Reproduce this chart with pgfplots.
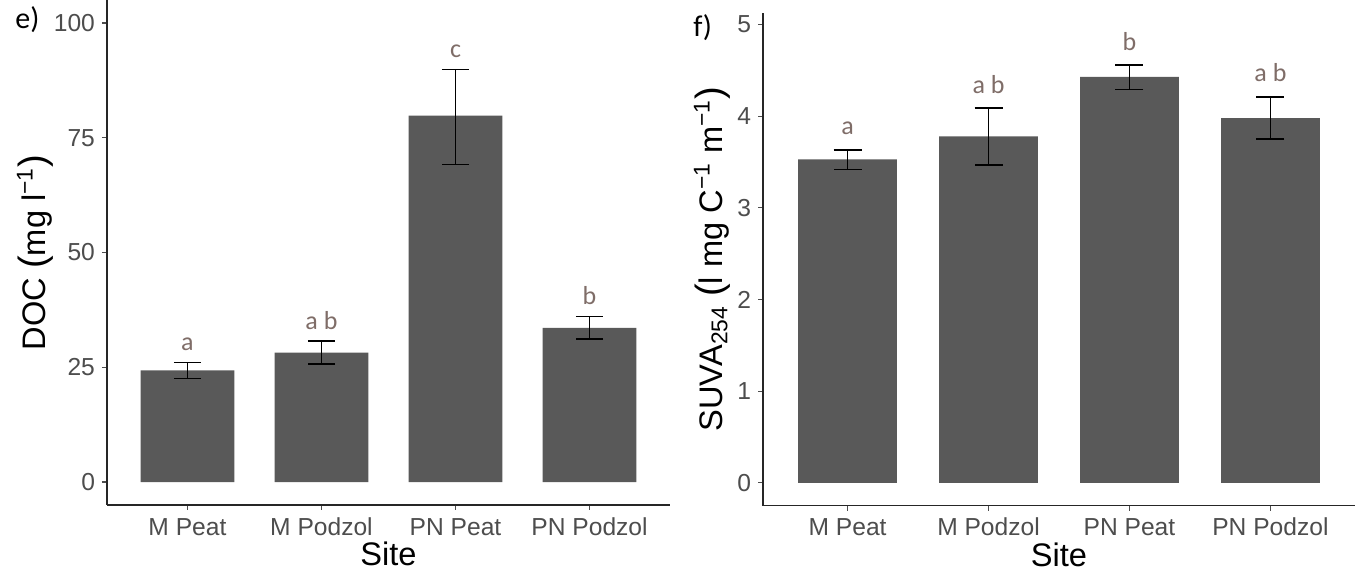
\documentclass[border=0pt]{standalone}
\usepackage{fontspec}
\setmainfont{Liberation Sans}
\newfontfamily\cali{Carlito}
\usepackage{pgfplots}
\pgfplotsset{compat=1.18}

\definecolor{barc}{HTML}{595959}
\definecolor{tickc}{HTML}{4D4D4D}
\definecolor{letc}{HTML}{7F6D68}

\pgfplotsset{
  siteaxis/.style={
    scale only axis,
    axis lines*=left,
    axis line style={line width=0.6pt, black!85},
    xmin=0.4, xmax=4.6,
    xtick={1,2,3,4},
    xticklabels={M Peat, M Podzol, PN Peat, PN Podzol},
    tick align=outside,
    major tick length=2.5pt,
    tick style={line width=0.6pt, tickc},
    ticklabel style={font=\fontsize{12.3}{13}\selectfont, text=tickc},
    xticklabel style={text height=9pt, text depth=0pt},
    /pgf/number format/assume math mode=true,
    label style={font=\fontsize{16.3}{17}\selectfont},
    xlabel={Site},
    xlabel style={at={(axis description cs:0.5,0)}, anchor=center, yshift=-24.5pt},
  },
  sitebars/.style={
    ybar, bar width=0.7, fill=barc, draw=none,
    error bars/.cd, y dir=both, y explicit,
    error bar style={line width=0.75pt, black},
    error mark options={rotate=90, line width=0.75pt, black, mark size=#1},
  },
  letters/.style={
    draw=none, mark=none,
    nodes near coords, point meta=explicit symbolic,
    nodes near coords style={font=\cali\fontsize{13}{13}\selectfont, text=letc, anchor=base},
  },
}

\begin{document}
\begin{tikzpicture}
\path[use as bounding box] (0,0) rectangle (683.5pt,286.5pt);

% panel e) DOC
\begin{axis}[siteaxis,
    at={(53.5pt,34pt)}, anchor=south west,
    width=281.5pt, height=252.5pt,
    ymin=-5, ymax=105,
    ytick={0,25,50,75,100},
    ylabel={DOC {\fontsize{19}{19}\selectfont(}mg l\textsuperscript{−1}{\fontsize{19}{19}\selectfont)}},
    ylabel style={at={(axis description cs:-0.128,0.5)}, anchor=center},
  ]
  \addplot[sitebars=6.8pt] coordinates {
    (1,24.3) += (0,1.7) -= (0,1.8)
    (2,28.2) += (0,2.5) -= (0,2.5)
    (3,79.8) += (0,10.1) -= (0,10.6)
    (4,33.6) += (0,2.5) -= (0,2.4)
  };
  \addplot[letters] coordinates {
    (1,28.6) [a]
    (2,33.3) [a b]
    (3,92.5) [c]
    (4,38.7) [b]
  };
\end{axis}

% panel f) SUVA254
\begin{axis}[siteaxis,
    at={(381.5pt,33.65pt)}, anchor=south west,
    width=296pt, height=246.5pt,
    ymin=-0.25, ymax=5.13,
    ytick={0,1,2,3,4,5},
    ylabel={SUVA\textsubscript{254} {\fontsize{19}{19}\selectfont(}l mg C\textsuperscript{−1} m\textsuperscript{−1}{\fontsize{19}{19}\selectfont)}},
    ylabel style={at={(axis description cs:-0.086,0.5)}, anchor=center},
  ]
  \addplot[sitebars=7pt] coordinates {
    (1,3.53) += (0,0.10) -= (0,0.11)
    (2,3.78) += (0,0.31) -= (0,0.31)
    (3,4.43) += (0,0.13) -= (0,0.14)
    (4,3.98) += (0,0.23) -= (0,0.23)
  };
  \addplot[letters] coordinates {
    (1,3.80) [a]
    (2,4.25) [a b]
    (3,4.72) [b]
    (4,4.38) [a b]
  };
\end{axis}

\node[anchor=base west, font=\cali\fontsize{15}{15}\selectfont, inner sep=0pt] at (7.5pt,272.3pt) {e)};
\node[anchor=base west, font=\cali\fontsize{15}{15}\selectfont, inner sep=0pt] at (346.5pt,268.2pt) {f)};
\end{tikzpicture}
\end{document}
